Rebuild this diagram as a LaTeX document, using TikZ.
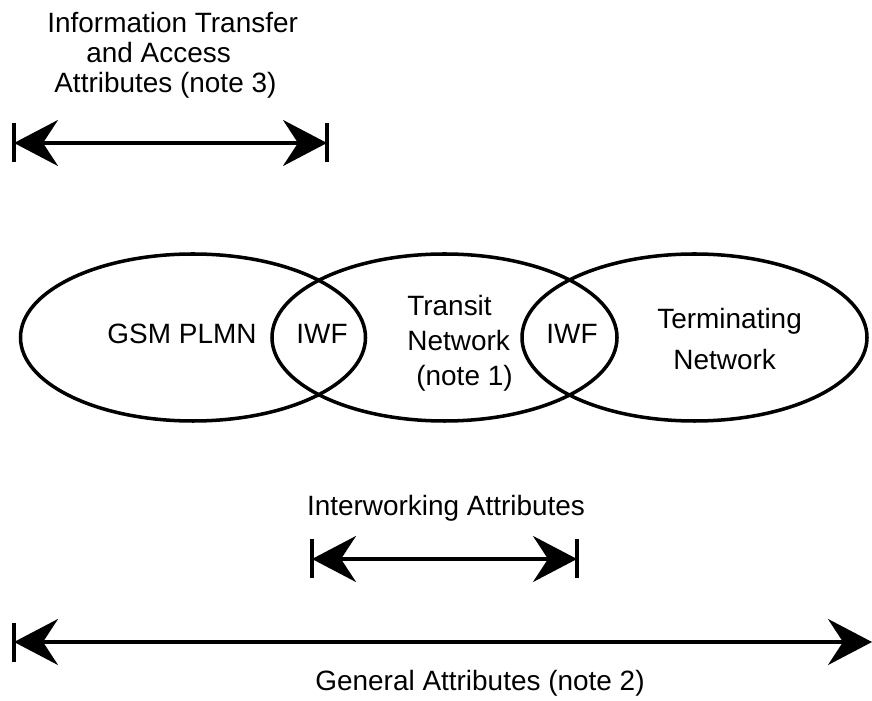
\documentclass[tikz,border=0pt]{standalone}
\usepackage{fontspec}
\setmainfont{Liberation Sans}
\usepackage{tikz}
\usetikzlibrary{arrows.meta,shapes.geometric,positioning}
\tikzset{>={Stealth[length=0.88cm,width=0.92cm,inset=0.3cm]}}

\begin{document}
\begin{tikzpicture}[x=2cm,y=2cm,
                          net/.style={ellipse, draw, line width=2pt, minimum width=6.9cm, minimum height=3.34cm, inner sep=0pt},
                          attrarrow/.style={line width=1.8pt, <->},
                          endbar/.style={line width=2.6pt, black},
                          lbl/.style={font=\fontsize{15.9}{19.8}\selectfont, inner sep=0pt},
                         ]

\useasboundingbox (0,0) rectangle (8.72,7);

% the three networks
\node[net] (plmn) at (1.93,3.625) {};
\node[net] (transit) at (4.445,3.625) {};
\node[net] (term) at (6.945,3.625) {};

\node[lbl] (plmn-txt) at (1.82,3.66) {GSM PLMN};
\node[lbl] (iwf-a) at (3.22,3.66) {IWF};
\node[lbl, align=left, anchor=west] (transit-txt) at (4.07,3.57) {Transit\\Network\\\hspace*{0.18cm}(note 1)};
\node[lbl] (iwf-b) at (5.72,3.66) {IWF};
\node[lbl, align=left, anchor=west, font=\fontsize{15.9}{23.8}\selectfont] (term-txt) at (6.57,3.61) {Terminating\\\hspace*{0.32cm}Network};

% information transfer and access attributes
\node[lbl, align=left, anchor=west, font=\fontsize{15.9}{17}\selectfont] (ita-txt) at (0.47,6.45) {Information Transfer\\\hspace*{0.78cm}and Access\\\hspace*{0.14cm}Attributes (note 3)};
\coordinate (ita-l) at (0.14,5.57);
\coordinate (ita-r) at (3.27,5.57);
\draw[attrarrow] (ita-l) -- (ita-r);
\draw[endbar] ([yshift=0.39cm]ita-l) -- ([yshift=-0.39cm]ita-l);
\draw[endbar] ([yshift=0.39cm]ita-r) -- ([yshift=-0.39cm]ita-r);

% interworking attributes
\node[lbl] (iw-txt) at (4.46,1.92) {Interworking Attributes};
\coordinate (iw-l) at (3.12,1.41);
\coordinate (iw-r) at (5.77,1.41);
\draw[attrarrow] (iw-l) -- (iw-r);
\draw[endbar] ([yshift=0.39cm]iw-l) -- ([yshift=-0.39cm]iw-l);
\draw[endbar] ([yshift=0.39cm]iw-r) -- ([yshift=-0.39cm]iw-r);

% general attributes
\coordinate (gen-l) at (0.14,0.58);
\coordinate (gen-r) at (8.72,0.58);
\draw[attrarrow] (gen-l) -- (gen-r);
\draw[endbar] ([yshift=0.39cm]gen-l) -- ([yshift=-0.39cm]gen-l);
\node[lbl] (gen-txt) at (4.80,0.17) {General Attributes (note 2)};

\end{tikzpicture}
\end{document}
